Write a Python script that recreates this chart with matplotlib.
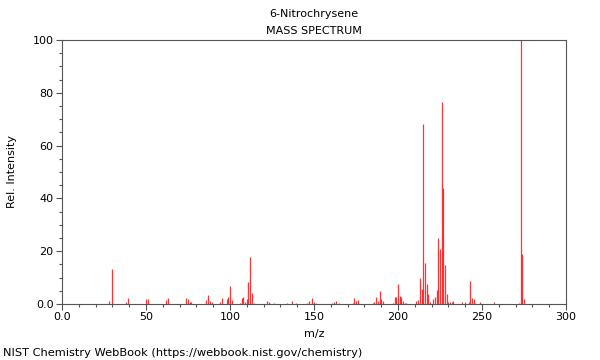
import numpy as np
import matplotlib
matplotlib.use("Agg")
import matplotlib.pyplot as plt
from matplotlib.ticker import MultipleLocator

# peaks (m/z, relative intensity)
mz = np.array([28, 30, 38, 39, 50, 51, 62, 63, 74, 75, 76, 77,
               86, 87, 88, 89, 94, 95, 98, 99, 100, 101,
               106, 107, 108, 109, 110, 111, 112, 113, 114,
               122, 123, 126, 134, 137, 139, 146, 147, 149, 150, 151,
               161, 162, 163, 165, 173, 174, 175, 176,
               185, 186, 187, 188, 189, 190, 191,
               197, 198, 199, 200, 201, 202, 203, 204, 205,
               211, 212, 213, 214, 215, 216, 217, 218, 219,
               221, 222, 223, 224, 225, 226, 227, 228, 229, 230, 231, 232, 233,
               238, 240, 242, 243, 244, 245, 246, 249, 257,
               272, 273, 274, 275])
intensity = np.array([1.3, 13.4, 0.7, 2.4, 1.7, 1.8, 1.5, 2.4, 2.3, 2.0, 0.8, 0.6,
                      1.5, 3.5, 1.0, 0.6, 0.9, 2.3, 2.0, 2.5, 6.7, 1.6,
                      0.5, 2.1, 2.8, 0.9, 2.0, 8.5, 17.9, 4.2, 0.5,
                      1.1, 0.6, 0.5, 0.5, 1.3, 0.5, 0.3, 1.0, 2.3, 0.9, 0.5,
                      0.5, 0.9, 1.3, 0.5, 0.5, 2.4, 1.1, 1.6,
                      0.5, 0.9, 2.8, 1.1, 5.0, 1.9, 1.1,
                      0.5, 2.8, 2.8, 7.4, 2.9, 2.6, 1.0, 0.4, 0.3,
                      1.2, 1.6, 9.7, 5.6, 68.0, 15.4, 7.4, 3.7, 0.6,
                      1.9, 2.7, 5.3, 25.0, 21.0, 76.5, 43.8, 14.8, 3.9, 0.8, 0.6, 0.8, 1.1,
                      0.6, 0.6, 0.6, 8.7, 2.4, 1.9, 0.5, 0.8, 0.8,
                      0.5, 100.0, 19.0, 2.0])

fig = plt.figure(figsize=(6, 3.6), dpi=100)
ax = fig.add_axes([0.1033, 0.1556, 0.84, 0.7333])

ax.vlines(mz, 0, intensity, color="#ff0000", linewidth=0.9, alpha=0.8)

ax.set_xlim(0, 300)
ax.set_ylim(0, 100)
ax.xaxis.set_minor_locator(MultipleLocator(10))
ax.yaxis.set_minor_locator(MultipleLocator(5))
ax.set_xticks([0, 50, 100, 150, 200, 250, 300])
ax.set_xticklabels(["0.0", "50", "100", "150", "200", "250", "300"], fontsize=8)
ax.set_yticks([0, 20, 40, 60, 80, 100])
ax.set_yticklabels(["0.0", "20", "40", "60", "80", "100"], fontsize=8)
ax.tick_params(which="major", length=4, width=0.8, color="#555555", pad=2)
ax.tick_params(which="minor", length=2, width=0.8, color="#555555")
for s in ax.spines.values():
    s.set_color("#555555")
    s.set_linewidth(0.8)

ax.set_xlabel("m/z", fontsize=8, labelpad=5)
ax.set_ylabel("Rel. Intensity", fontsize=8)
ax.yaxis.set_label_coords(-0.089, 0.5)

fig.text(0.5233, 0.962, "6-Nitrochrysene", ha="center", va="center", fontsize=8)
fig.text(0.5233, 0.915, "MASS SPECTRUM", ha="center", va="center", fontsize=8)
fig.text(0.005, 0.02, "NIST Chemistry WebBook (https://webbook.nist.gov/chemistry)",
         ha="left", va="center", fontsize=8.2)

fig.savefig("out.png", dpi=100)
